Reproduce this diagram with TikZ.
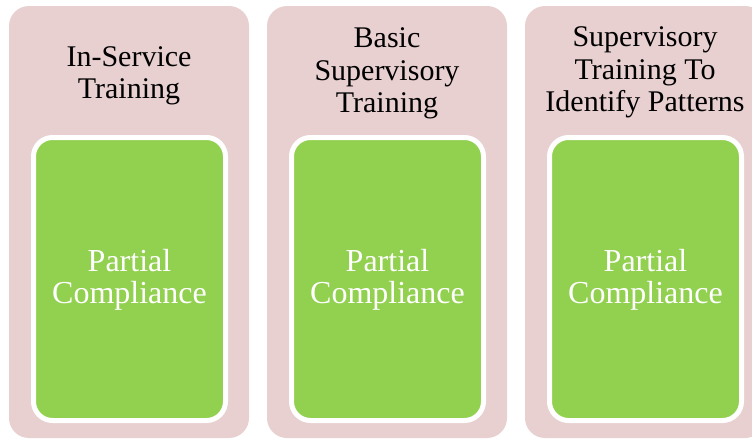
\documentclass[tikz,border=0pt]{standalone}
\usepackage{fontspec}
\setmainfont{Liberation Serif}
\usepackage{tikz}

\definecolor{pinkbg}{RGB}{232,207,208}
\definecolor{greenbox}{RGB}{146,208,80}

\begin{document}
\begin{tikzpicture}[x=1pt,y=1pt,
        stage/.style = {fill=pinkbg, rounded corners=20pt, minimum width=240pt, minimum height=432pt, inner sep=0pt},
        result/.style = {fill=greenbox, draw=white, line width=5pt, rounded corners=19pt, minimum width=192pt, minimum height=283pt, inner sep=0pt},
        title/.style = {align=center, font=\fontsize{30}{32.5}\selectfont, inner sep=0pt},
        status/.style = {align=center, text=white, font=\fontsize{32}{31.5}\selectfont, inner sep=0pt}]
        \useasboundingbox (0,0) rectangle (752,-439);
        \clip (0,0) rectangle (752,-439);
        % pink columns
        \node[stage] (s1) at (129,-222) {};
        \node[stage] (s2) at (387,-222) {};
        \node[stage] (s3) at (645,-222) {};
        % green boxes
        \node[result] (r1) at (129.5,-279) {};
        \node[result] (r2) at (387.5,-279) {};
        \node[result] (r3) at (645.5,-279) {};
        % headings
        \node[title] (t1) at ([yshift=-70pt]s1.north) {In-Service\\Training};
        \node[title] (t2) at ([yshift=-68pt]s2.north) {Basic\\Supervisory\\Training};
        \node[title] (t3) at ([yshift=-67pt]s3.north) {Supervisory\\Training To\\Identify Patterns};
        % labels
        \node[status] (p1) at ([yshift=-1pt]r1) {Partial\\Compliance};
        \node[status] (p2) at ([yshift=-1pt]r2) {Partial\\Compliance};
        \node[status] (p3) at ([yshift=-1pt]r3) {Partial\\Compliance};
\end{tikzpicture}
\end{document}
